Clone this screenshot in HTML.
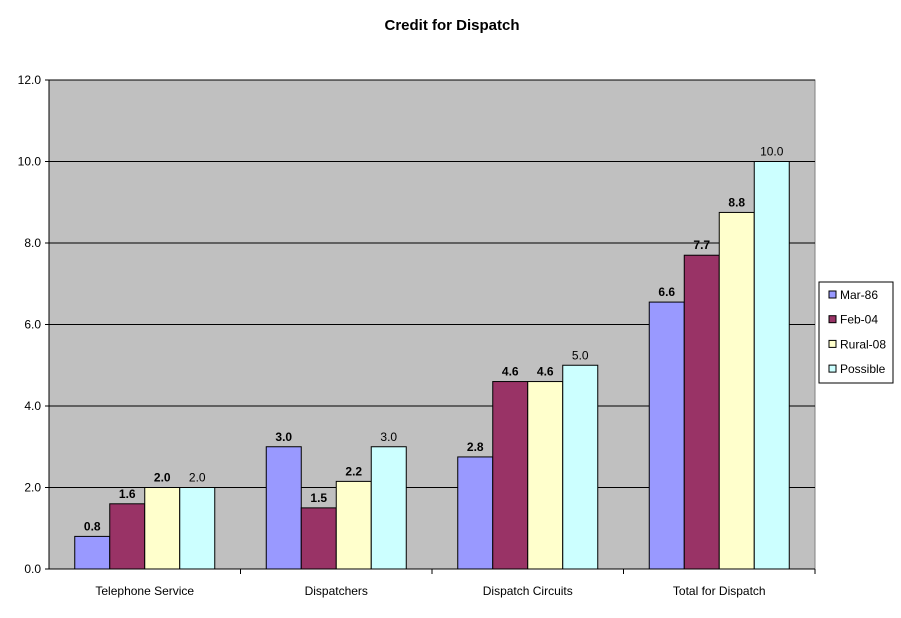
<!DOCTYPE html>
<html><head><meta charset="utf-8"><style>
body{margin:0;background:#fff;font-family:"Liberation Sans",Arial,sans-serif;}
svg text{font-family:"Liberation Sans",Arial,sans-serif;}
</style></head><body>
<svg id="chart" width="901" height="613" viewBox="0 0 901 613" xmlns="http://www.w3.org/2000/svg">
<text x="452" y="30" text-anchor="middle" font-size="15" font-weight="bold">Credit for Dispatch</text>
<g id="plot"></g>
<g id="legend"></g>
</svg>
<script>
const categories=["Telephone  Service","Dispatchers","Dispatch Circuits","Total for Dispatch"];
const seriesNames=["Mar-86","Feb-04","Rural-08","Possible"];
const mar86=[0.8,3.0,2.75,6.55];
const feb04=[1.6,1.5,4.6,7.7];
const rural08=[2.0,2.15,4.6,8.75];
const possible=[2.0,3.0,5.0,10.0];
const mar86Labels=["0.8","3.0","2.8","6.6"];
const feb04Labels=["1.6","1.5","4.6","7.7"];
const rural08Labels=["2.0","2.2","4.6","8.8"];
const possibleLabels=["2.0","3.0","5.0","10.0"];
const yTicks=[0,2,4,6,8,10,12];
const yTickLabels=["0.0","2.0","4.0","6.0","8.0","10.0","12.0"];

const NS="http://www.w3.org/2000/svg";
const L=49,R=815,T=80,B=569,yMax=12;
const y=v=>B-(v/yMax)*(B-T);
const groupW=(R-L)/categories.length, barW=35, gOff=(groupW-4*barW)/2;
const x=(ci,si)=>L+ci*groupW+gOff+si*barW;
const series=[mar86,feb04,rural08,possible];
const labels=[mar86Labels,feb04Labels,rural08Labels,possibleLabels];
const colors=["#9999FF","#993366","#FFFFCC","#CCFFFF"];
const plot=document.getElementById("plot");
function mk(tag,attrs,parent){const e=document.createElementNS(NS,tag);for(const k in attrs)e.setAttribute(k,attrs[k]);parent.appendChild(e);return e;}

const bg=mk("rect",{x:L,y:T,width:R-L,height:B-T,fill:"#C0C0C0",stroke:"#808080"},plot);


yTicks.forEach((t,i)=>{
  if(t>0){const gl=mk("line",{x1:L,x2:R,y1:y(t),y2:y(t),stroke:"#000","stroke-width":1},plot);
  
  }
  mk("line",{x1:L-4,x2:L,y1:y(t),y2:y(t),stroke:"#000"},plot);
  const tl=mk("text",{x:L-8,y:y(t)+4,"text-anchor":"end","font-size":12},plot);
  tl.textContent=yTickLabels[i];
  
  
});
mk("line",{x1:L,x2:L,y1:T,y2:B,stroke:"#000"},plot);
mk("line",{x1:L,x2:R,y1:B,y2:B,stroke:"#000"},plot);
categories.forEach((c,ci)=>{
  const tx=L+(ci+1)*groupW;
  mk("line",{x1:tx,x2:tx,y1:B,y2:B+5,stroke:"#000"},plot);
  const cl=mk("text",{x:L+(ci+0.5)*groupW,y:B+26,"text-anchor":"middle","font-size":12,"xml:space":"preserve"},plot);
  cl.textContent=c;
  
  
  series.forEach((s,si)=>{
    const v=s[ci];
    const r=mk("rect",{x:x(ci,si),y:y(v),width:barW,height:B-y(v),fill:colors[si],stroke:"#000","stroke-width":1},plot);
    
    
    const lt=mk("text",{x:x(ci,si)+barW/2,y:y(v)-6,"text-anchor":"middle","font-size":12,"font-weight":si<3?"bold":"normal"},plot);
    lt.textContent=labels[si][ci];
    
    
  });
});
const lg=document.getElementById("legend");
mk("rect",{x:819,y:282,width:74,height:101,fill:"#fff",stroke:"#000"},lg);
seriesNames.forEach((n,i)=>{
  const cy=295+i*24.7;
  const sw=mk("rect",{x:829,y:cy-4,width:7,height:7,fill:colors[i],stroke:"#000"},lg);
  
  
  const t=mk("text",{x:840,y:cy+4,"font-size":12},lg);
  t.textContent=n;
  
  
});
</script>
</body></html>
